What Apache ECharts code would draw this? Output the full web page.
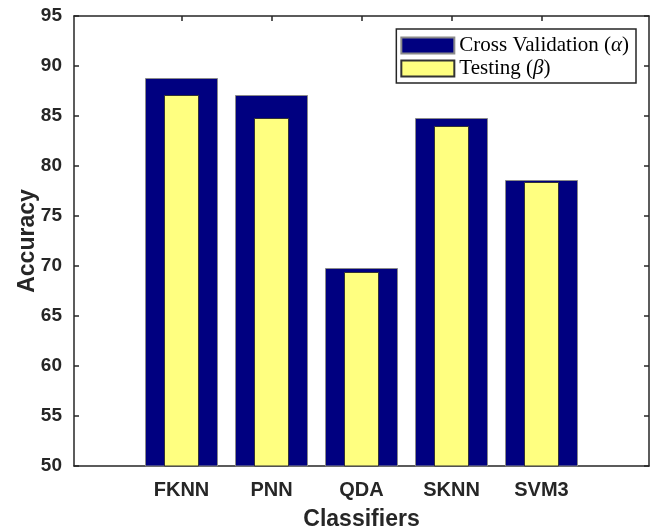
<!DOCTYPE html>
<html>
<head>
<meta charset="utf-8">
<script src="https://cdn.jsdelivr.net/npm/echarts@6/dist/echarts.min.js"></script>
<style>html,body{margin:0;padding:0;background:#fff;}#c{width:660px;height:529px;}</style>
</head>
<body>
<div id="c"></div>
<script>
const categories = ['FKNN', 'PNN', 'QDA', 'SKNN', 'SVM3'];
const cvValues = [88.8, 87.1, 69.8, 84.8, 78.6];
const testValues = [87.1, 84.8, 69.4, 84.0, 78.4];
const yTicks = [50, 55, 60, 65, 70, 75, 80, 85, 90, 95];
const seriesNames = ['Cross Validation (α)', 'Testing (β)'];

const positions = categories.map((c, i) => i + 1);
const axisColor = '#262626';
const xMin = 1 - 107.5 / 90, xMax = categories.length + 107.5 / 90;

const chart = echarts.init(document.getElementById('c'), null, {renderer: 'canvas'});
const xBase = {
  type: 'value', min: xMin, max: xMax,
  splitLine: {show: false},
  axisLine: {show: true, onZero: false, lineStyle: {color: axisColor, width: 1.5}},
  axisTick: {show: true, inside: true, length: 5, customValues: positions, lineStyle: {color: axisColor, width: 1.5}},
};
const yBase = {
  type: 'value', min: 50, max: 95, interval: 5,
  splitLine: {show: false},
  axisLine: {show: true, onZero: false, lineStyle: {color: axisColor, width: 1.5}},
  axisTick: {show: true, inside: true, length: 5, lineStyle: {color: axisColor, width: 1.5}},
};
const serif = 'Liberation Serif';
chart.setOption({
  animation: false,
  grid: {left: 74, right: 11, top: 16, bottom: 63, containLabel: false, outerBoundsMode: 'none'},
  legend: {
    right: 24, top: 29,
    orient: 'vertical',
    data: seriesNames,
    icon: 'rect',
    itemWidth: 53, itemHeight: 16, itemGap: 2,
    padding: [6, 7, 4, 4],
    borderColor: axisColor, borderWidth: 1.5, backgroundColor: '#fff', borderRadius: 0,
    formatter: name => name.replace(/\((.)\)/, '({i|$1})'),
    textStyle: {
      fontFamily: serif, fontSize: 21, color: '#000',
      rich: {i: {fontFamily: serif, fontSize: 21, fontStyle: 'italic', color: '#000'}}
    }
  },
  xAxis: [
    Object.assign({}, xBase, {
      position: 'bottom',
      name: 'Classifiers', nameLocation: 'middle', nameGap: 42,
      nameTextStyle: {fontFamily: 'Liberation Sans', fontWeight: 'bold', fontSize: 23, color: axisColor},
      axisLabel: {
        customValues: positions, margin: 14,
        fontFamily: 'Liberation Sans', fontWeight: 'bold', fontSize: 20, color: axisColor,
        formatter: v => categories[Math.round(v) - 1] || ''
      }
    }),
    Object.assign({}, xBase, {position: 'top', axisLabel: {show: false}})
  ],
  yAxis: [
    Object.assign({}, yBase, {
      position: 'left',
      name: 'Accuracy', nameLocation: 'middle', nameGap: 35, nameMoveOverlap: false,
      nameTextStyle: {fontFamily: 'Liberation Sans', fontWeight: 'bold', fontSize: 23, color: axisColor},
      axisLabel: {margin: 12, fontFamily: 'Liberation Sans', fontWeight: 'bold', fontSize: 19, color: axisColor,
        formatter: v => yTicks.includes(v) ? String(v) : ''}
    }),
    Object.assign({}, yBase, {position: 'right', axisLabel: {show: false}})
  ],
  series: [
    {
      name: seriesNames[0], type: 'bar', xAxisIndex: 0, yAxisIndex: 0,
      barWidth: 73, clip: true,
      itemStyle: {color: '#000080', borderColor: '#8a8a8a', borderWidth: 1},
      data: cvValues.map((v, i) => [positions[i], v]), z: 1
    },
    {
      name: seriesNames[1], type: 'bar', xAxisIndex: 1, yAxisIndex: 0,
      barWidth: 35, clip: true,
      itemStyle: {color: '#FFFF80', borderColor: '#333333', borderWidth: 1},
      data: testValues.map((v, i) => [positions[i], v]), z: 2
    }
  ]
});
</script>
</body>
</html>
